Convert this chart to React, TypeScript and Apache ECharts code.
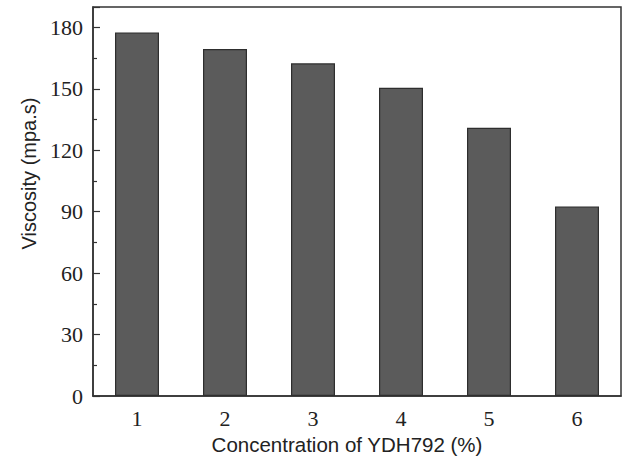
import React, { useEffect, useRef } from "react";
import * as echarts from "echarts";

const categories = ["1", "2", "3", "4", "5", "6"];
const viscosity = [177.5, 169.5, 162.5, 150.5, 131, 92.5];

export default function App() {
  const ref = useRef<HTMLDivElement>(null);
  useEffect(() => {
    const chart = echarts.init(ref.current!, null, { renderer: "svg" });
    chart.setOption({
      animation: false,
      grid: {
        left: 93,
        top: 7,
        right: 2,
        bottom: 60,
        show: true,
        borderColor: "#333",
        borderWidth: 1.5,
      },
      xAxis: [
        {
          type: "category",
          data: categories,
          position: "bottom",
          axisLine: { lineStyle: { color: "#333", width: 1.5 } },
          axisTick: { inside: true, alignWithLabel: true, length: 7, lineStyle: { color: "#333", width: 1.2 } },
          axisLabel: { fontFamily: "Liberation Serif", fontSize: 22, color: "#222", margin: 11 },
          name: "Concentration of YDH792 (%)",
          nameLocation: "middle",
          nameGap: 38,
          nameTextStyle: { fontFamily: "Liberation Sans", fontSize: 20.5, color: "#222", padding: [0, 20, 0, 0] },
        },
        {
          type: "category",
          data: categories,
          position: "bottom",
          offset: 0,
          axisLine: { show: false },
          axisTick: { inside: true, length: 3, lineStyle: { color: "#333", width: 1.2 } },
          axisLabel: { show: false },
        },
      ],
      yAxis: {
        type: "value",
        min: 0,
        max: 190,
        interval: 30,
        axisLine: { show: true, lineStyle: { color: "#333", width: 1.5 } },
        axisTick: { show: true, inside: true, length: 7, lineStyle: { color: "#333", width: 1.2 } },
        minorTick: { show: true, splitNumber: 2, length: 4, lineStyle: { color: "#333", width: 1.2 } },
        splitLine: { show: false },
        axisLabel: {
          fontFamily: "Liberation Serif",
          fontSize: 22,
          color: "#222",
          margin: 10,
          showMaxLabel: false,
          formatter: (v: number) => (v % 30 === 0 ? String(v) : ""),
        },
        name: "Viscosity (mpa.s)",
        nameLocation: "middle",
        nameGap: 53,
        nameTextStyle: { fontFamily: "Liberation Sans", fontSize: 20, color: "#222", padding: [0, 0, 0, 56] },
      },
      series: [
        {
          type: "bar",
          xAxisIndex: 0,
          data: viscosity,
          barWidth: "50%",
          itemStyle: { color: "#5b5b5b", borderColor: "#2e2e2e", borderWidth: 1.2 },
        },
      ],
    });
    return () => chart.dispose();
  }, []);
  return <div ref={ref} style={{ width: 623, height: 460, position: "absolute", left: 0, top: 0 }} />;
}
